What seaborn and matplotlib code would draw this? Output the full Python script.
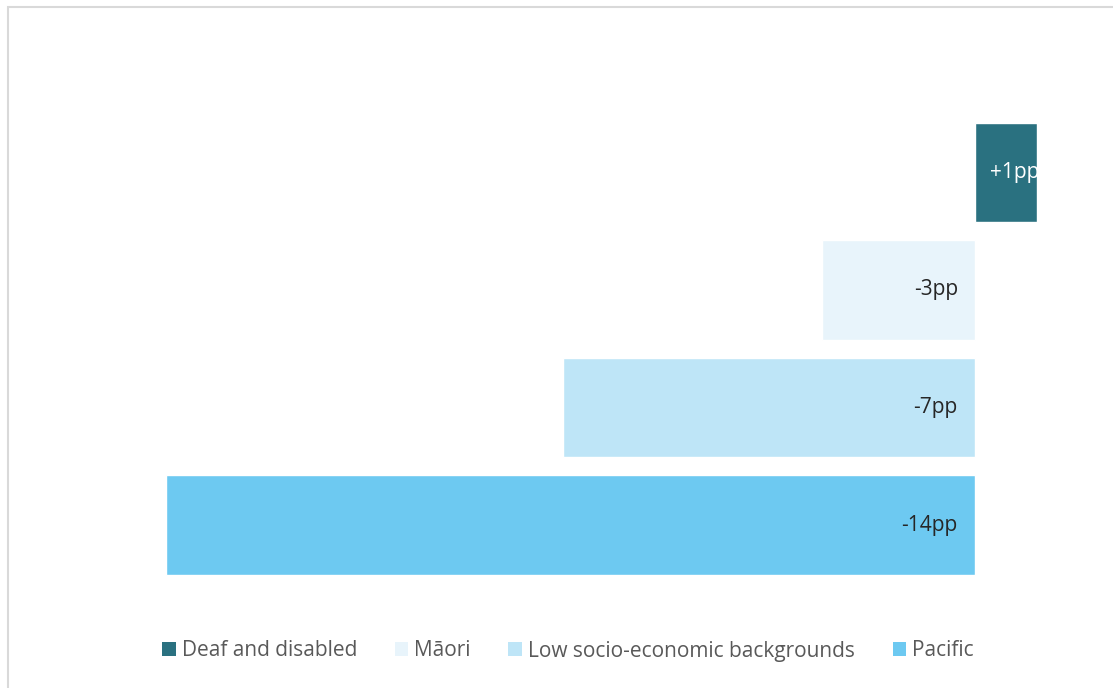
import matplotlib
matplotlib.use("Agg")
import matplotlib.pyplot as plt
from matplotlib.patches import Rectangle, Patch
import seaborn as sns
import pandas as pd

categories = ["Deaf and disabled", "Māori", "Low socio-economic backgrounds", "Pacific"]
values = [1.07, -2.65, -7.13, -14.0]
labels = ["+1pp", "-3pp", "-7pp", "-14pp"]
colors = ["#2a7180", "#e8f4fb", "#bee5f7", "#6dc9f1"]
label_colors = ["white", "#262626", "#262626", "#262626"]

sns.set_theme(style="white")
plt.rcParams['font.family'] = ['Open Sans', 'DejaVu Sans']

W, H = 1113, 688
fig = plt.figure(figsize=(W / 100, H / 100), dpi=100)

# outer chart border
fig.patches.append(Rectangle((8 / W, -0.1), 1.2, 1 - 7 / H + 0.1,
                             transform=fig.transFigure, fill=False,
                             edgecolor="#d9d9d9", linewidth=1.5))

left_px, right_px = 166, 1037
top_px, bot_px = 113.75, 583.75
ax = fig.add_axes([left_px / W, 1 - bot_px / H, (right_px - left_px) / W, (bot_px - top_px) / H])

df = pd.DataFrame({"category": categories, "value": values})
sns.barplot(data=df, x="value", y="category", hue="category", palette=colors,
            order=categories, hue_order=categories, dodge=False, legend=False,
            width=0.845, ax=ax, orient="h", saturation=1)

ax.set_xlim(-14.0, 1.07)
ax.set_ylim(3.5, -0.5)
ax.axis("off")

for i, (v, lab, lc) in enumerate(zip(values, labels, label_colors)):
    if v > 0:
        ax.text(0.26, i, lab, ha="left", va="center", color=lc, fontsize=15, clip_on=True)
    else:
        ax.text(-0.3, i, lab, ha="right", va="center", color=lc, fontsize=15)

handles = [Patch(facecolor=c, edgecolor="none", label=n) for c, n in zip(colors, categories)]
fig.legend(handles=handles, loc="center", bbox_to_anchor=(568 / W, 1 - 651 / H), ncol=4,
           frameon=False, fontsize=15, handlelength=0.65, handleheight=0.65,
           handletextpad=0.3, columnspacing=1.8, labelcolor="#595959")

fig.savefig("out.png", dpi=100)
